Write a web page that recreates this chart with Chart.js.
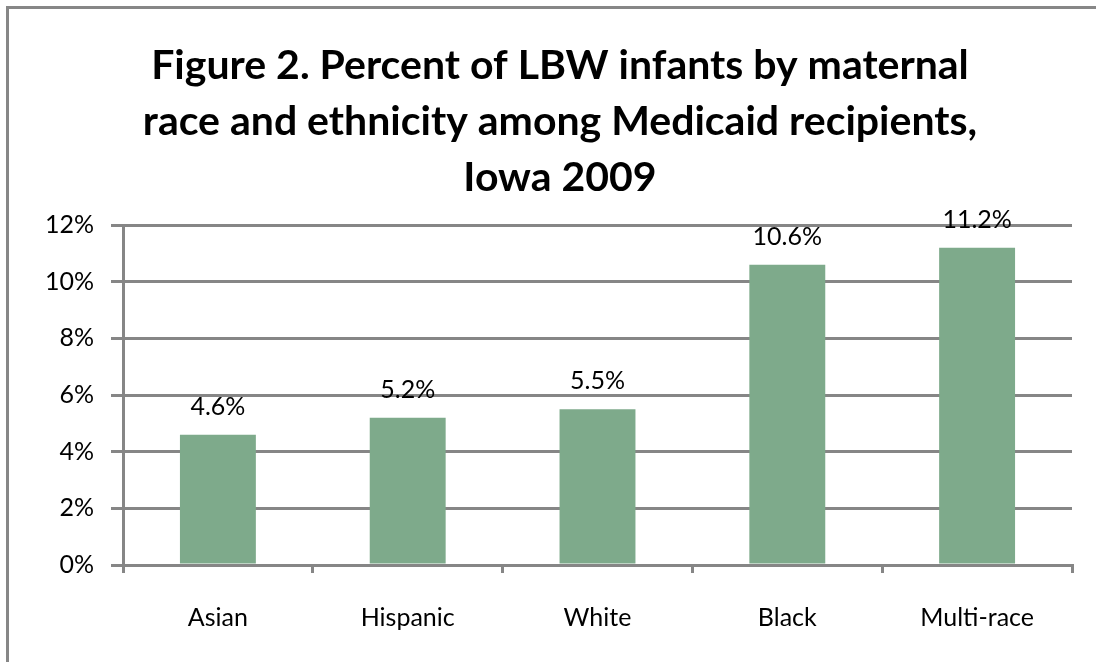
<!DOCTYPE html>
<html>
<head>
<meta charset="utf-8">
<title>Percent of LBW infants by maternal race and ethnicity</title>
<script src="https://cdn.jsdelivr.net/npm/chart.js@4.4.0/dist/chart.umd.min.js"></script>
<style>
  html, body { margin: 0; padding: 0; background: #fff; overflow: hidden; }
  #frame { position: absolute; left: 6px; top: 6px; width: 1200px; height: 800px; border: 3px solid #878787; }
  #wrap { position: absolute; left: 0; top: 0; width: 1096px; height: 662px; }
</style>
</head>
<body>
<div id="frame"></div>
<div id="wrap"><canvas id="lbwChart" width="1096" height="662"></canvas></div>
<script>
// ---------- data ----------
const categories = ["Asian", "Hispanic", "White", "Black", "Multi-race"];
const lbwPercent = [4.6, 5.2, 5.5, 10.6, 11.2];
const yTicks = [0, 2, 4, 6, 8, 10, 12];
const titleLines = [
  "Figure 2. Percent of LBW infants by maternal",
  "race and ethnicity among Medicaid recipients,",
  "Iowa 2009"
];

const FONT = "Lato, 'Open Sans', sans-serif";
const GRID = "#868686";

// ---------- plugins ----------
const titlePlugin = {
  id: "titleLines",
  afterDraw(chart) {
    const ctx = chart.ctx;
    ctx.save();
    ctx.fillStyle = "#000";
    ctx.font = "bold 41px " + FONT;
    ctx.textAlign = "center";
    ctx.textBaseline = "middle";
    titleLines.forEach((line, i) => {
      ctx.fillText(line, 560, 66 + i * 56);
    });
    ctx.restore();
  }
};

const valueLabels = {
  id: "valueLabels",
  afterDatasetsDraw(chart) {
    const ctx = chart.ctx;
    const meta = chart.getDatasetMeta(0);
    ctx.save();
    ctx.fillStyle = "#000";
    ctx.font = "25px " + FONT;
    ctx.textAlign = "center";
    ctx.textBaseline = "middle";
    meta.data.forEach((bar, i) => {
      ctx.fillText(lbwPercent[i].toFixed(1) + "%", bar.x, bar.y - 28);
    });
    ctx.restore();
  }
};

// ---------- chart ----------
new Chart(document.getElementById("lbwChart"), {
  type: "bar",
  data: {
    labels: categories,
    datasets: [{
      data: lbwPercent,
      backgroundColor: "#7eaa8b",
      borderWidth: 0,
      categoryPercentage: 0.4,
      barPercentage: 1
    }]
  },
  options: {
    responsive: false,
    animation: false,
    devicePixelRatio: 1,
    layout: { padding: { top: 225, right: 24, bottom: 0, left: 0 } },
    plugins: { legend: { display: false }, tooltip: { enabled: false } },
    scales: {
      x: {
        grid: { offset: true, drawOnChartArea: false, drawTicks: true, tickLength: 8, color: GRID, lineWidth: 3 },
        border: { display: true, color: GRID, width: 3 },
        ticks: { color: "#000", font: { family: FONT, size: 25 }, padding: 30, maxRotation: 0 },
        afterFit(scale) { scale.height = 97; }
      },
      y: {
        min: 0,
        max: 12,
        afterBuildTicks(scale) { scale.ticks = yTicks.map(v => ({ value: v })); },
        grid: { color: GRID, lineWidth: 3, tickLength: 12 },
        border: { display: true, color: GRID, width: 3 },
        ticks: { color: "#000", font: { family: FONT, size: 25 }, padding: 17, callback: v => v + "%" },
        afterFit(scale) { scale.width = 123; }
      }
    }
  },
  plugins: [titlePlugin, valueLabels]
});
</script>
</body>
</html>
